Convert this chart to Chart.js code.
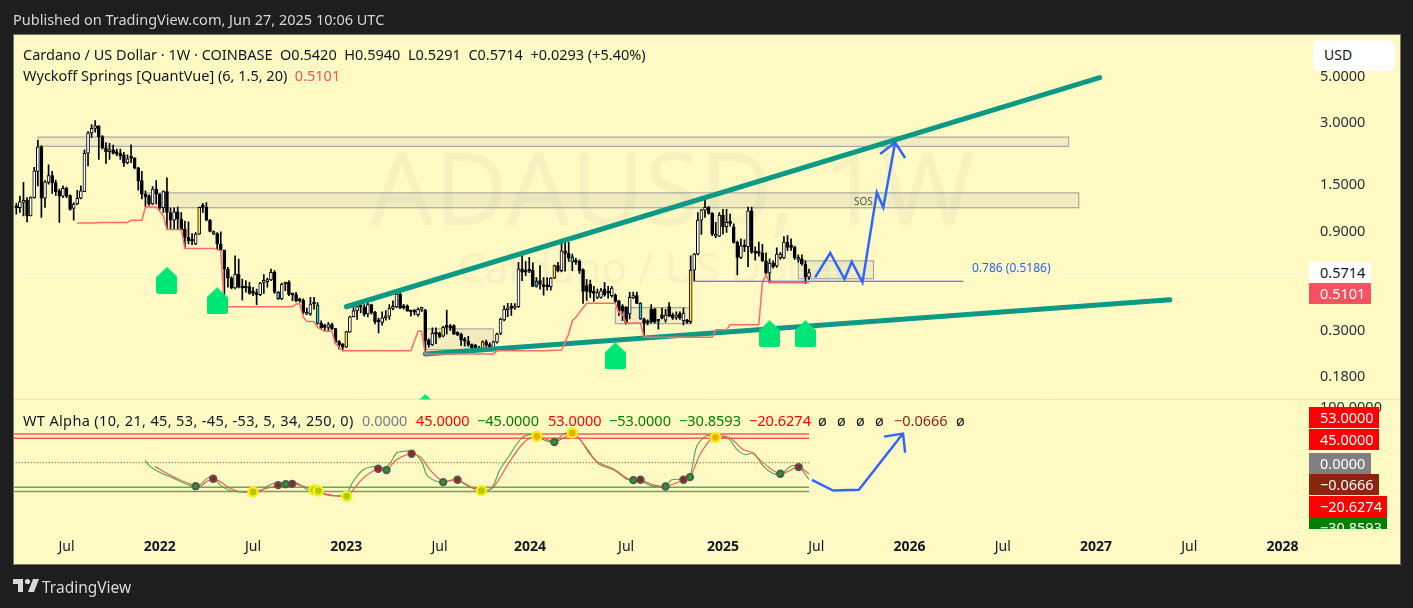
<!DOCTYPE html>
<html>
<head>
<meta charset="utf-8">
<title>ADAUSD 1W</title>
<script src="https://cdn.jsdelivr.net/npm/chart.js@4/dist/chart.umd.min.js"></script>
<style>
  html, body { margin: 0; padding: 0; background: #1e1e1e; width: 1413px; height: 608px; overflow: hidden; }
  body, .t { font-family: "Noto Sans", sans-serif; font-size: 14.5px; }
  #pane { position: absolute; left: 13px; top: 34px; width: 1386px; height: 529px; background: #fff9c4; border: 1px solid #77776a; }
  #cv { position: absolute; left: 0; top: 0; }
  .t { position: absolute; white-space: pre; line-height: 18px; color: #131722; }
  .badge { position: absolute; left: 1309px; color: #fff; padding-left: 11px; box-sizing: border-box; font-size: 14.5px; line-height: 21px; height: 21px; font-family: "Noto Sans", sans-serif; }
  #usd { position: absolute; left: 1313px; top: 40px; width: 82px; height: 31px; background: #fff; border-radius: 6px; line-height: 30px; padding-left: 11px; box-sizing: border-box; font-size: 14px; color: #131722; }
</style>
</head>
<body>
<div id="pane"></div>
<canvas id="cv" width="1413" height="608"></canvas>

<div class="t" style="left:13px;top:10px;color:#d6d6d6">Published on TradingView.com, Jun 27, 2025 10:06 UTC</div>
<div class="t" style="left:23px;top:45px">Cardano / US Dollar · 1W · COINBASE  O0.5420  H0.5940  L0.5291  C0.5714  +0.0293 (+5.40%)</div>
<div class="t" style="left:23px;top:66px">Wyckoff Springs [QuantVue] (6, 1.5, 20)  <span style="color:#f7525f">0.5101</span></div>
<div class="t" style="left:23px;top:411px;letter-spacing:.36px">WT Alpha (10, 21, 45, 53, -45, -53, 5, 34, 250, 0)</div>
<div class="t" style="left:362px;top:411px;color:#787b86">0.0000</div>
<div class="t" style="left:416px;top:411px;color:#ff0000">45.0000</div>
<div class="t" style="left:477px;top:411px;color:#008000">−45.0000</div>
<div class="t" style="left:548px;top:411px;color:#ff0000">53.0000</div>
<div class="t" style="left:609px;top:411px;color:#008000">−53.0000</div>
<div class="t" style="left:679px;top:411px;color:#008000">−30.8593</div>
<div class="t" style="left:749px;top:411px;color:#ff0000">−20.6274</div>
<div class="t" style="left:818px;top:411px">ø</div>
<div class="t" style="left:837px;top:411px">ø</div>
<div class="t" style="left:856px;top:411px">ø</div>
<div class="t" style="left:875px;top:411px">ø</div>
<div class="t" style="left:894px;top:411px;color:#8b2510">−0.0666</div>
<div class="t" style="left:956px;top:411px">ø</div>

<div class="t" style="left:854px;top:192px;font-size:10px;color:#555">SOS</div>
<div class="t" style="left:972px;top:259px;font-size:12px;color:#2962ff">0.786 (0.5186)</div>

<div id="usd">USD</div>
<div class="badge" style="top:262px;width:62px;background:#fff;color:#131722">0.5714</div>
<div class="badge" style="top:283px;width:62px;background:#f7525f">0.5101</div>
<div class="badge" style="top:407px;width:70px;background:#ff0000">53.0000</div>
<div class="badge" style="top:429px;width:70px;background:#ff0000">45.0000</div>
<div class="badge" style="top:453px;width:62px;background:#808080">0.0000</div>
<div class="badge" style="top:474px;width:70px;background:#8b2510">−0.0666</div>
<div class="badge" style="top:496px;width:78px;background:#ff0000">−20.6274</div>
<div class="badge" style="top:517px;width:78px;height:12px;overflow:hidden;background:#008000">−30.8593</div>

<svg style="position:absolute;left:13px;top:578px" width="26" height="16" viewBox="0 0 26 16">
  <path d="M0 1h10v13H5V6H0z M20 1h6l-5 13h-6z" fill="#d9d9d9"/>
  <circle cx="14.5" cy="3.5" r="2.6" fill="#d9d9d9"/>
</svg>
<div class="t" style="left:42px;top:578px;font-size:15.5px;color:#d9d9d9">TradingView</div>

<script>
// weekly candles, bar 0 is the first week on screen
const barOpen = [
  1.18,1.17,1.24,1.27,1.07,1.31,1.75,2.30,1.30,1.55,
  1.67,1.54,1.41,1.33,1.45,1.34,1.16,1.22,1.30,1.40,
  2.14,2.68,2.82,2.90,2.57,2.27,2.18,2.22,2.18,2.14,
  2.10,1.93,2.03,2.03,1.82,1.58,1.36,1.34,1.22,1.44,
  1.36,1.17,1.40,1.11,1.02,1.12,1.03,.925,.843,.815,
  .783,.874,1.18,1.175,1.02,.90,.88,.783,.733,.594,
  .537,.481,.562,.485,.489,.489,.462,.458,.447,.512,
  .516,.526,.572,.459,.426,.503,.512,.449,.448,.421,
  .421,.360,.361,.406,.398,.325,.313,.311,.321,.307,
  .266,.259,.25,.295,.35,.374,.392,.39,.361,.40,
  .368,.337,.329,.346,.352,.384,.39,.45,.394,.395,
  .374,.372,.358,.38,.378,.271,.257,.292,.291,.282,
  .313,.312,.317,.295,.289,.271,.267,.257,.255,.248,
  .242,.265,.257,.245,.264,.291,.338,.378,.386,.386,
  .391,.595,.582,.584,.587,.52,.522,.50,.49,.489,
  .537,.616,.583,.727,.707,.68,.647,.647,.59,.494,
  .503,.458,.434,.434,.476,.46,.442,.445,.418,.395,
  .39,.361,.431,.442,.406,.342,.33,.38,.38,.337,
  .358,.337,.392,.358,.347,.363,.335,.335,.331,.587,
  .70,1.02,1.14,1.18,1.10,.874,.855,1.08,.95,.995,
  .947,.80,.675,.77,.76,1.13,.72,.715,.71,.651,
  .567,.634,.615,.672,.672,.80,.76,.758,.675,.665,
  .627,.5420];
const barHigh = [
  1.23,1.33,1.55,1.31,1.32,1.83,2.47,2.33,1.58,1.88,
  1.75,1.59,1.44,1.49,1.47,1.35,1.24,1.42,1.49,2.22,
  2.72,2.94,3.07,2.90,2.60,2.41,2.39,2.34,2.24,2.24,
  2.16,2.10,2.35,2.04,1.83,1.75,1.41,1.35,1.48,1.58,
  1.37,1.41,1.63,1.17,1.17,1.18,1.11,1.01,1.00,.88,
  .89,1.18,1.23,1.24,1.03,.907,.89,.897,.733,.605,
  .545,.688,.663,.531,.522,.512,.485,.476,.512,.558,
  .537,.594,.583,.462,.508,.514,.522,.451,.459,.43,
  .427,.385,.434,.434,.41,.335,.323,.329,.326,.308,
  .269,.26,.298,.353,.39,.41,.413,.401,.43,.403,
  .372,.345,.37,.375,.40,.418,.467,.459,.402,.399,
  .377,.38,.386,.387,.38,.274,.31,.31,.295,.315,
  .377,.322,.32,.296,.292,.279,.282,.259,.258,.252,
  .268,.27,.262,.267,.292,.345,.395,.406,.406,.405,
  .639,.701,.645,.675,.635,.54,.616,.54,.54,.54,
  .62,.64,.797,.797,.797,.70,.668,.658,.595,.53,
  .526,.49,.476,.48,.512,.49,.49,.451,.42,.40,
  .392,.46,.46,.46,.41,.345,.338,.40,.384,.34,
  .385,.38,.41,.365,.37,.37,.385,.34,.688,.705,
  1.11,1.15,1.32,1.19,1.11,.995,1.11,1.15,1.15,1.09,
  .98,.81,.83,.82,1.18,1.18,.76,.80,.78,.71,
  .665,.65,.75,.715,.85,.86,.83,.765,.695,.695,
  .65,.5940];
const barLow = [
  1.09,1.11,1.07,1.00,1.07,1.30,1.49,1.05,1.175,1.52,
  1.37,1.34,.995,1.31,1.31,1.14,1.02,1.21,1.29,1.40,
  1.86,2.55,2.70,2.00,2.24,1.91,2.00,2.12,2.08,2.00,
  1.85,1.90,1.93,1.80,1.42,1.29,1.18,1.20,1.21,1.22,
  1.15,1.11,.925,.925,.925,.925,.914,.748,.783,.777,
  .777,.87,1.11,1.01,.895,.87,.735,.727,.39,.485,
  .476,.476,.481,.421,.459,.45,.442,.40,.442,.453,
  .485,.522,.453,.424,.423,.467,.442,.418,.413,.41,
  .361,.358,.355,.381,.322,.307,.30,.30,.303,.262,
  .245,.24,.249,.294,.349,.34,.365,.352,.349,.36,
  .323,.293,.319,.337,.34,.378,.387,.383,.381,.372,
  .352,.357,.352,.37,.232,.25,.254,.26,.277,.28,
  .289,.30,.288,.284,.255,.253,.252,.243,.239,.241,
  .241,.252,.242,.242,.261,.287,.334,.35,.355,.38,
  .388,.522,.55,.57,.488,.485,.475,.445,.47,.47,
  .535,.575,.575,.58,.645,.583,.625,.565,.406,.418,
  .433,.415,.428,.43,.44,.43,.435,.41,.355,.335,
  .322,.342,.428,.404,.34,.279,.32,.326,.326,.305,
  .342,.33,.35,.34,.34,.34,.32,.325,.325,.522,
  .695,.87,1.05,1.09,.86,.84,.85,.874,.89,.955,
  .79,.556,.665,.72,.61,.705,.655,.685,.645,.561,
  .507,.60,.605,.66,.665,.728,.73,.66,.64,.62,
  .505,.5291];
const barClose = [
  1.17,1.25,1.27,1.07,1.31,1.76,2.30,1.30,1.56,1.67,
  1.54,1.40,1.33,1.45,1.33,1.15,1.22,1.30,1.41,2.14,
  2.68,2.82,2.90,2.57,2.27,2.18,2.23,2.14,2.12,2.08,
  1.93,2.01,2.02,1.82,1.57,1.36,1.32,1.22,1.44,1.36,
  1.17,1.40,1.11,1.02,1.12,1.03,.917,.843,.812,.808,
  .874,1.175,1.175,1.02,.90,.874,.783,.733,.594,.537,
  .481,.562,.485,.481,.481,.453,.453,.447,.508,.518,
  .526,.572,.459,.426,.503,.512,.448,.446,.418,.418,
  .367,.365,.403,.403,.325,.309,.311,.321,.307,.264,
  .257,.25,.297,.35,.374,.392,.39,.359,.40,.366,
  .331,.331,.346,.352,.384,.392,.45,.386,.386,.372,
  .369,.368,.38,.385,.269,.257,.291,.289,.28,.311,
  .311,.31,.289,.286,.271,.267,.257,.248,.245,.242,
  .265,.255,.245,.265,.289,.341,.381,.384,.384,.393,
  .595,.573,.573,.58,.49,.49,.50,.489,.487,.537,
  .616,.583,.727,.705,.67,.64,.64,.583,.463,.463,
  .458,.453,.458,.467,.447,.454,.481,.415,.374,.372,
  .327,.434,.442,.406,.342,.326,.327,.33,.33,.333,
  .345,.357,.352,.345,.357,.345,.365,.33,.587,.70,
  1.02,1.145,1.175,1.10,.874,.855,1.08,.947,.995,.985,
  .797,.675,.768,.76,1.13,.715,.707,.705,.651,.567,
  .634,.61,.70,.70,.80,.754,.754,.672,.66,.63,
  .542,.5714];
const yellowBars = [51, 92, 119, 130, 150, 188, 213];
const cyanBars = [55, 73, 84, 145, 155, 174, 195, 218];

// Wyckoff Springs support line
const supportBars = [17,22,23,31,32,35,36,39,41,42,46,47,55,57,58,77,78,79,80,81,83,84,86,88,89,91,110,112,113,114,133,134,147,152,154,155,156,159,167,168,169,170,174,175,194,195,198,199,207,208,209,210,221];
const supportPrices = [.988,.988,.995,.995,1.02,1.02,1.18,1.18,1.07,.92,.92,.746,.746,.727,.391,.391,.403,.403,.348,.332,.332,.311,.298,.298,.259,.24,.24,.298,.298,.232,.232,.24,.24,.242,.289,.335,.348,.406,.406,.367,.36,.327,.327,.279,.279,.303,.303,.32,.32,.512,.556,.512,.5101];

// drawings on the price pane
const upperTrendBars = [92, 302];
const upperTrendPrices = [.391, 4.94];
const lowerTrendBars = [114, 321.6];
const lowerTrendPrices = [.232, .422];
const fibBars = [188.7, 264];
const fibPrices = [.5186, .5186];
const pathBars = [222.7, 226.9, 230.9, 232.9, 235.9, 239.9, 241.7, 245];
const pathPrices = [.541, .709, .531, .644, .512, 1.386, 1.174, 2.41];
const pathHeadBars = [240.8, 245, 247.8];
const pathHeadPrices = [2.12, 2.41, 2.03];
const springBars = [42, 56, 114, 167, 210, 220];
const springPrices = [.524, .418, .128, .227, .29, .29];

// grey zones: first bar, last bar, upper price, lower price
const zoneFrom = [6.05, 36, 114.2, 167, 218];
const zoneTo = [293.4, 296.2, 133, 188, 239];
const zoneHigh = [2.56, 1.38, .306, .387, .65];
const zoneLow = [2.31, 1.17, .243, .324, .533];

// WT Alpha pane
const wtGreenBars = [35.9,37.3,40.1,43.8,47.5,49.8,51.2,53.3,54.9,56.8,59.6,62.3,65.2,67.9,69.8,72.6,75.4,78.2,80.9,83.7,86.5,89.3,92.1,93.9,96.7,99.5,102.3,104.2,106,107.9,110.2,113,114.4,116.7,119,121.8,123.7,126.5,129.7,132.5,134.8,137.6,140.9,143.2,145.1,147.4,150.2,152.5,155.1,157.2,160,162.7,166.5,170.2,173.9,177.1,180.9,182.7,186,187.8,189.7,192.5,194.8,198.6,200.9,203.2,205.5,208.3,211.1,213.4,215.7,218.1,221];
const wtGreenValues = [4.3,-6.8,-17.9,-28.3,-39.4,-43.7,-40.6,-28.3,-26.5,-40.6,-51.1,-53.6,-53.6,-52.9,-43.7,-36.3,-38.8,-37.5,-48.6,-52.9,-59.1,-60.9,-56,-34.5,-12.9,-6.8,-9.8,-.6,17.9,20.9,20.9,2.5,-22.2,-33.2,-35.7,-31.4,-34.5,-44.9,-51.1,-46.8,-12.9,14.8,45.6,51.7,48.6,41.2,38.2,52.9,54.8,42.5,14.8,-3.7,-12.9,-30.2,-33.2,-42.5,-43.7,-31.4,-30.2,-25.2,30.2,49.9,46.8,44.3,24,14.8,17.9,-6.8,-20.3,-20.3,-6.8,-6.8,-30.86];
const wtRedBars = [38.7,41,44.7,48.4,51.2,53.1,54.9,56.8,59.6,62.3,66.1,68.9,73,75.4,77.2,79.6,83.3,86.5,92.1,93.9,96.7,100.9,103.2,106,110.2,113,115.3,119,122.8,126.5,130.2,133,137.6,141.4,145.1,150.2,152.5,155.3,159,161.8,166.5,171.1,173.9,177.6,180.9,186,187.8,190.6,194.3,198.6,202.7,205,208.3,212.9,218.1,221];
const wtRedValues = [-6.8,-16,-28.3,-38.8,-43.7,-34.5,-30.2,-34.5,-46.8,-52.9,-53.6,-48.6,-41.9,-38.8,-38.8,-42.5,-51.1,-57.9,-62.2,-49.9,-28.3,-11.1,-12.9,5.5,16.6,8.6,-12.9,-34.5,-31.4,-43.7,-51.1,-44.9,2.5,36.3,48.6,38.2,45.6,53.6,27.1,2.5,-11.7,-31.4,-31.4,-40.6,-43.7,-31.4,-27.1,14.8,46.8,46.8,24,19.1,-.6,-20.3,-8,-20.63];
const crossUpBars = [50,75.1,103.2,119,150,172,181,187.8,213];
const crossUpValues = [-43.1,-39.4,-13.5,-35.7,38.2,-32,-43.7,-26.5,-20.3];
const crossDownBars = [54.9,73,76.9,100.9,110.2,123,174,186,218.1];
const crossDownValues = [-29.5,-41.2,-38.8,-11.1,16.6,-31.4,-31.4,-31.4,-8];
const lowFlagBars = [66,83,84.2,92.1,129.7];
const lowFlagValues = [-53.6,-49.9,-51.7,-61.6,-51.1];
const highFlagBars = [145.1,155,194.9];
const highFlagValues = [48.6,54.8,46.8];
const wtPathBars = [221.8, 227.7, 234.9, 247.2];
const wtPathValues = [-31.4, -51.2, -49.9, 53.6];
const wtHeadBars = [241.9, 247.2, 247.8];
const wtHeadValues = [48, 53.6, 18.5];
const levelEnds = [-1, 221];

// axis ticks
const xTickBars = [14, 40, 66, 92, 118, 143.2, 170, 197, 223, 249, 275, 301, 327, 353];
const xTickLabels = ['Jul','2022','Jul','2023','Jul','2024','Jul','2025','Jul','2026','Jul','2027','Jul','2028'];
const priceTicks = [5, 3, 1.5, 0.9, 0.3, 0.18];
const wtTicks = [100];
const lastPrice = 0.5714;

const fontName = '"Noto Sans", sans-serif';

function points(bars, values) {
  return bars.map((b, i) => ({ x: b, y: values[i] }));
}

function lineSet(bars, values, axis, color, width, order, extra) {
  return Object.assign({
    type: 'line', xAxisID: 'x', yAxisID: axis,
    data: points(bars, values),
    borderColor: color, borderWidth: width,
    pointRadius: 0, fill: false, tension: 0, clip: 0, order: order
  }, extra || {});
}

function dotSet(bars, values, inner, outer, radius, ring) {
  return {
    type: 'line', xAxisID: 'x', yAxisID: 'wt',
    data: points(bars, values),
    showLine: false, pointRadius: radius, pointBackgroundColor: inner,
    pointBorderColor: outer, pointBorderWidth: ring, clip: 0, order: 15
  };
}

// the green house shaped marker of the spring signal
const springIcon = document.createElement('canvas');
springIcon.width = 21;
springIcon.height = 27;
(function () {
  const c = springIcon.getContext('2d');
  c.fillStyle = '#00e676';
  c.beginPath();
  c.moveTo(10.5, 0);
  c.lineTo(21, 10);
  c.lineTo(21, 25);
  c.quadraticCurveTo(21, 27, 19, 27);
  c.lineTo(2, 27);
  c.quadraticCurveTo(0, 27, 0, 25);
  c.lineTo(0, 10);
  c.closePath();
  c.fill();
})();

const barColors = barClose.map((close, i) => {
  if (yellowBars.includes(i)) return '#ffeb3b';
  if (cyanBars.includes(i)) return '#26c6da';
  return close >= barOpen[i] ? '#ffffff' : '#000000';
});

const backdropPlugin = {
  id: 'backdrop',
  beforeDatasetsDraw(chart) {
    const { ctx, scales } = chart;
    const x = scales.x, y = scales.y;
    ctx.save();
    ctx.beginPath();
    ctx.rect(x.left, y.top, x.right - x.left, y.bottom - y.top);
    ctx.clip();
    // watermark
    ctx.fillStyle = 'rgba(120,123,134,0.06)';
    ctx.textAlign = 'center';
    ctx.textBaseline = 'middle';
    ctx.font = '101px ' + fontName;
    ctx.fillText('ADAUSD, 1W', 672, 196);
    ctx.font = '42.5px ' + fontName;
    ctx.fillText('Cardano / US Dollar', 654, 271);
    // zones
    zoneFrom.forEach((from, i) => {
      const left = x.getPixelForValue(from);
      const right = x.getPixelForValue(zoneTo[i]);
      const top = y.getPixelForValue(zoneHigh[i]);
      const bottom = y.getPixelForValue(zoneLow[i]);
      ctx.fillStyle = 'rgba(120,123,134,0.1)';
      ctx.fillRect(left, top, right - left, bottom - top);
      ctx.strokeStyle = '#9b9b9b';
      ctx.lineWidth = 1;
      ctx.strokeRect(left, top, right - left, bottom - top);
    });
    ctx.restore();
    // pane separator
    ctx.strokeStyle = '#e0e3eb';
    ctx.lineWidth = 1;
    ctx.beginPath();
    ctx.moveTo(14, y.bottom);
    ctx.lineTo(1399, y.bottom);
    ctx.stroke();
  }
};

new Chart(document.getElementById('cv'), {
  type: 'bar',
  plugins: [backdropPlugin],
  data: {
    datasets: [
      lineSet([-1, 361], [lastPrice, lastPrice], 'y', '#ffffff', 1, 70, { borderDash: [1, 2] }),
      { type: 'bar', xAxisID: 'x', yAxisID: 'y', order: 60,
        data: barHigh.map((h, i) => ({ x: i, y: [barLow[i], h] })),
        backgroundColor: '#000000', barThickness: 1, grouped: false },
      { type: 'bar', xAxisID: 'x', yAxisID: 'y', order: 50,
        data: barOpen.map((o, i) => ({ x: i, y: [o, barClose[i]] })),
        backgroundColor: barColors, borderColor: '#000000', borderWidth: 1,
        borderSkipped: false, barThickness: 3, minBarLength: 2, grouped: false },
      lineSet(upperTrendBars, upperTrendPrices, 'y', '#0b9a84', 5, 40, { borderCapStyle: 'round' }),
      lineSet(lowerTrendBars, lowerTrendPrices, 'y', '#0b9a84', 5, 40, { borderCapStyle: 'round' }),
      lineSet(supportBars, supportPrices, 'y', '#ff6b6b', 1.5, 30),
      lineSet(fibBars, fibPrices, 'y', '#2962ff', 1, 25),
      { type: 'line', xAxisID: 'x', yAxisID: 'y', order: 20, clip: 0,
        data: points(springBars, springPrices), showLine: false,
        pointStyle: springIcon, pointRadius: 10 },
      lineSet(pathBars, pathPrices, 'y', '#2f66ff', 2.5, 10),
      lineSet(pathHeadBars, pathHeadPrices, 'y', '#2f66ff', 2.5, 10),

      lineSet(levelEnds, [53, 53], 'wt', '#ff5a52', 1.5, 45),
      lineSet(levelEnds, [45, 45], 'wt', '#ff5a52', 1.5, 45),
      lineSet(levelEnds, [-45, -45], 'wt', '#66a85a', 1.5, 45),
      lineSet(levelEnds, [-53, -53], 'wt', '#66a85a', 1.5, 45),
      lineSet(levelEnds, [0, 0], 'wt', '#444444', 1, 45, { borderDash: [1, 2] }),
      lineSet(wtGreenBars, wtGreenValues, 'wt', '#4fa34f', 1.1, 35, { tension: 0.3 }),
      lineSet(wtRedBars, wtRedValues, 'wt', '#f0554f', 1.1, 34, { tension: 0.3 }),
      dotSet(crossUpBars, crossUpValues, '#13a813', '#555555', 3.2, 2),
      dotSet(crossDownBars, crossDownValues, '#b01818', '#555555', 3.2, 2),
      dotSet(lowFlagBars, lowFlagValues, '#b4c800', '#f5ef1a', 4.6, 2.5),
      dotSet(highFlagBars, highFlagValues, '#e5b200', '#f5ef1a', 4.6, 2.5),
      lineSet(wtPathBars, wtPathValues, 'wt', '#2f66ff', 2.5, 10),
      lineSet(wtHeadBars, wtHeadValues, 'wt', '#2f66ff', 2.5, 10)
    ]
  },
  options: {
    responsive: false,
    animation: false,
    events: [],
    layout: { padding: { left: 14, top: 35, right: 14, bottom: 45 } },
    plugins: { legend: { display: false }, tooltip: { enabled: false } },
    scales: {
      x: {
        type: 'linear', position: 'bottom', offset: false,
        min: -0.64, max: 360.1,
        grid: { display: false, drawTicks: false }, border: { display: false },
        afterBuildTicks(scale) { scale.ticks = xTickBars.map(v => ({ value: v })); },
        afterFit(scale) { scale.height = 33; },
        ticks: {
          autoSkip: false, maxRotation: 0, padding: 9, color: '#131722',
          font: ctx => ({ family: fontName, size: 14, weight: ctx.index % 2 ? 'bold' : 'normal' }),
          callback: (value, index) => xTickLabels[index]
        }
      },
      y: {
        type: 'logarithmic', position: 'right', stack: 'panes', stackWeight: 364.5, weight: 1,
        min: 0.14, max: 7.925,
        grid: { display: false, drawTicks: false }, border: { display: false },
        afterBuildTicks(scale) { scale.ticks = priceTicks.map(v => ({ value: v })); },
        afterFit(scale) { scale.width = 91; },
        ticks: {
          autoSkip: false, padding: 12, color: '#2a2e39', font: { family: fontName, size: 14.5 },
          callback: value => value.toFixed(4)
        }
      },
      wt: {
        type: 'linear', position: 'right', stack: 'panes', stackWeight: 130.5, weight: 2,
        min: -123.7, max: 116.3,
        grid: { display: false, drawTicks: false }, border: { display: false },
        afterBuildTicks(scale) { scale.ticks = wtTicks.map(v => ({ value: v })); },
        afterFit(scale) { scale.width = 91; },
        ticks: {
          autoSkip: false, padding: 12, color: '#2a2e39', font: { family: fontName, size: 14.5 },
          callback: value => value.toFixed(4)
        }
      }
    }
  }
});
</script>
</body>
</html>
